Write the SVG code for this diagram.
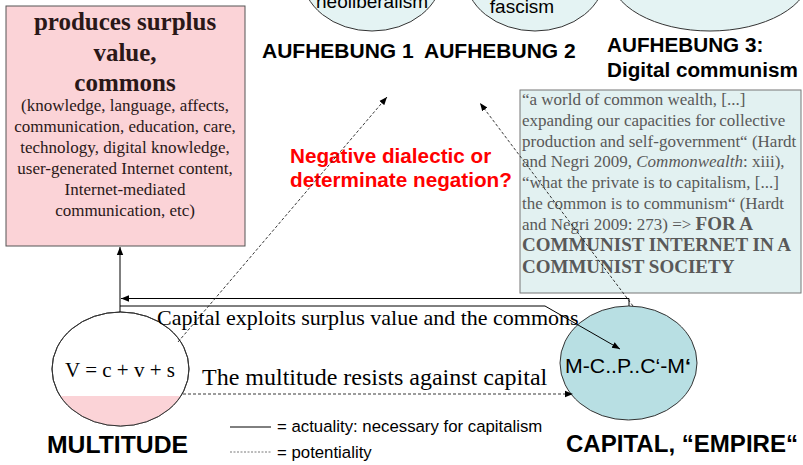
<svg xmlns="http://www.w3.org/2000/svg" width="803" height="465" viewBox="0 0 803 465">
<defs>
<marker id="ah" viewBox="0 0 10 10" refX="10" refY="5" markerWidth="8" markerHeight="8" markerUnits="userSpaceOnUse" orient="auto">
<path d="M0,1 L10,5 L0,9 z" fill="#000"/>
</marker>
<clipPath id="mclip"><rect x="40" y="396" width="160" height="40"/></clipPath>
<style>
.serif{font-family:"Liberation Serif","Times New Roman",serif}
.sans{font-family:"Liberation Sans",Arial,sans-serif}
.solid{fill:none;stroke:#000;stroke-width:1}
.dash{fill:none;stroke:#222;stroke-width:0.9;stroke-dasharray:3 2}
.ell{stroke:#333;stroke-width:1}
.quote{font-size:17px;fill:#595959}
</style>
</defs>
<rect width="803" height="465" fill="#fff"/>

<g id="top-ellipses">
<g id="neoliberalism">
<ellipse cx="372" cy="-25" rx="70" ry="56" fill="#e4f3f3" class="ell"/>
<text x="372" y="8" text-anchor="middle" class="sans" font-size="19">neoliberalism</text>
</g>
<g id="fascism">
<ellipse cx="535" cy="-25" rx="70" ry="56" fill="#e4f3f3" class="ell"/>
<text x="522" y="13" text-anchor="middle" class="sans" font-size="19">fascism</text>
</g>
<g id="communism-ellipse">
<ellipse cx="710" cy="-25" rx="100" ry="56" fill="#e4f3f3" class="ell"/>
</g>
</g>

<g id="aufhebung-labels" class="sans" font-weight="bold">
<text x="262" y="58" font-size="21">AUFHEBUNG 1</text>
<text x="424" y="58" font-size="21">AUFHEBUNG 2</text>
<text x="607" y="52" font-size="20.7">AUFHEBUNG 3:</text>
<text x="607" y="77" font-size="20.7">Digital communism</text>
</g>

<g id="commons-box">
<rect x="6" y="6" width="239" height="240" fill="#fbd3d7" stroke="#555" stroke-width="1"/>
<g class="serif" fill="#2a1818" text-anchor="middle">
<text x="125" y="30" font-size="25" font-weight="bold">produces surplus</text>
<text x="125" y="61" font-size="25" font-weight="bold">value,</text>
<text x="125" y="91" font-size="25" font-weight="bold">commons</text>
<g font-size="17">
<text x="125" y="111">(knowledge, language, affects,</text>
<text x="125" y="132">communication, education, care,</text>
<text x="125" y="153">technology, digital knowledge,</text>
<text x="125" y="174">user-generated Internet content,</text>
<text x="125" y="195">Internet-mediated</text>
<text x="125" y="216">communication, etc)</text>
</g>
</g>
</g>

<g id="quote-box">
<rect x="520" y="90" width="281" height="203" fill="#e2f1f1" stroke="#777" stroke-width="1"/>
<g class="serif quote">
<text x="522" y="105">“a world of common wealth, [...]</text>
<text x="522" y="126">expanding our capacities for collective</text>
<text x="522" y="147">production and self-government“ (Hardt</text>
<text x="522" y="167">and Negri 2009, <tspan font-style="italic">Commonwealth</tspan>: xiii),</text>
<text x="522" y="188">“what the private is to capitalism, [...]</text>
<text x="522" y="209">the common is to communism“ (Hardt</text>
<text x="522" y="230">and Negri 2009: 273) =&gt; <tspan font-weight="bold" font-size="19">FOR A</tspan></text>
<text x="522" y="251" font-weight="bold" font-size="19">COMMUNIST INTERNET IN A</text>
<text x="522" y="273" font-weight="bold" font-size="19">COMMUNIST SOCIETY</text>
</g>
</g>

<g id="red-question">
<text class="sans" font-weight="bold" font-size="20.7" fill="#f00">
<tspan x="290" y="163">Negative dialectic or</tspan>
<tspan x="290" y="187">determinate negation?</tspan>
</text>
</g>

<g id="multitude">
<ellipse cx="120.5" cy="369" rx="68.5" ry="57" fill="#fff" class="ell"/>
<ellipse cx="120.5" cy="369" rx="68.5" ry="57" fill="#fbd3d7" stroke="none" clip-path="url(#mclip)"/>
<ellipse cx="120.5" cy="369" rx="68.5" ry="57" fill="none" class="ell"/>
<text x="120" y="377" text-anchor="middle" class="serif" font-size="21">V = c + v + s</text>
<text x="117.5" y="453" text-anchor="middle" class="sans" font-weight="bold" font-size="23" textLength="141" lengthAdjust="spacingAndGlyphs">MULTITUDE</text>
</g>

<g id="capital">
<ellipse cx="628.5" cy="363" rx="68.5" ry="57" fill="#b8dfe3" class="ell"/>
<text x="565" y="373" class="sans" font-size="20" textLength="126" lengthAdjust="spacingAndGlyphs">M-C..P..C‘-M<tspan font-weight="bold">‘</tspan></text>
<text x="566" y="452" class="sans" font-weight="bold" font-size="23" textLength="232" lengthAdjust="spacingAndGlyphs">CAPITAL, “EMPIRE“</text>
</g>

<g id="connectors">
<path class="solid" d="M120,312 V247" marker-end="url(#ah)"/>
<path class="solid" d="M629,306 V298.5 H121" marker-end="url(#ah)"/>
<path class="solid" d="M120,306 H545 L620,349" marker-end="url(#ah)"/>
<path class="dash" d="M183,394 H573" marker-end="url(#ah)"/>
<path class="dash" d="M178,342 L387,97" marker-end="url(#ah)"/>
<path class="dash" d="M633,306 L480,103" marker-end="url(#ah)"/>
</g>

<g id="connector-labels" class="serif">
<text x="157" y="325" font-size="22">Capital exploits surplus value and the commons</text>
<text x="202" y="385" font-size="24">The multitude resists against capital</text>
</g>

<g id="legend" class="sans" font-size="16.8">
<line x1="230" y1="427" x2="271" y2="427" stroke="#000" stroke-width="1"/>
<text x="277" y="432">= actuality: necessary for capitalism</text>
<line x1="230" y1="452" x2="271" y2="452" stroke="#555" stroke-width="0.8" stroke-dasharray="2 1.5"/>
<text x="277" y="458">= potentiality</text>
</g>
</svg>
